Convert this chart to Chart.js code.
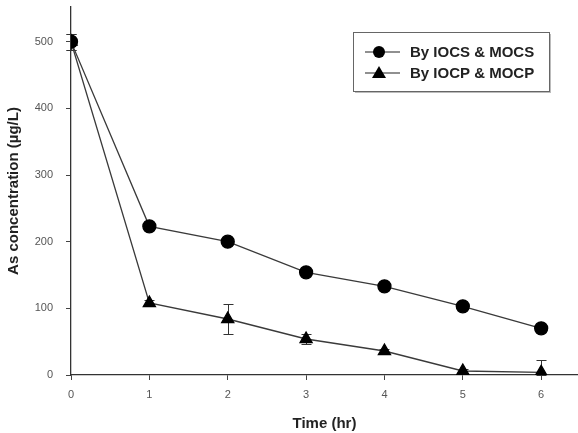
<!DOCTYPE html>
<html>
<head>
<meta charset="utf-8">
<script src="https://cdn.jsdelivr.net/npm/chart.js@4.4.0/dist/chart.umd.min.js"></script>
<style>
  html, body { margin: 0; padding: 0; background: #fff; }
  #wrap { width: 578px; height: 433px; }
</style>
</head>
<body>
<div id="wrap"><canvas id="asChart" width="578" height="433"></canvas></div>
<script>
// As removal over time: two sorbent combos
const times = [0, 1, 2, 3, 4, 5, 6];
const iocsMocs = [500, 223, 200, 154, 133, 103, 70];
const iocsMocsErr = [12, 5, 5, 4, 6, 4, 5];
const iocpMocp = [500, 108, 84, 54, 36, 6, 4];
const iocpMocpErr = [12, 5, 22, 8, 3, 3, 18];
const xTicks = [0, 1, 2, 3, 4, 5, 6];
const yTicks = [0, 100, 200, 300, 400, 500];
const seriesNames = ['By IOCS & MOCS', 'By IOCP & MOCP'];

const lineColor = '#3a3a3a';
const fontFam = '"Liberation Sans", Arial, sans-serif';

// error bars, drawn under the markers
const errorBars = {
    id: 'errorBars',
    beforeDatasetsDraw(chart) {
        const ctx = chart.ctx;
        const xs = chart.scales.x, ys = chart.scales.y;
        ctx.save();
        ctx.strokeStyle = '#333';
        ctx.lineWidth = 1;
        chart.data.datasets.forEach(ds => {
            ds.data.forEach((p, i) => {
                const e = ds.errors[i];
                if (!e) return;
                const px = Math.round(xs.getPixelForValue(p.x)) + 0.5;
                const top = Math.round(ys.getPixelForValue(p.y + e)) + 0.5;
                const bot = Math.round(ys.getPixelForValue(Math.max(p.y - e, 0))) + 0.5;
                ctx.beginPath();
                ctx.moveTo(px, top); ctx.lineTo(px, bot);
                ctx.moveTo(px - 5, top); ctx.lineTo(px + 5, top);
                ctx.moveTo(px - 5, bot); ctx.lineTo(px + 5, bot);
                ctx.stroke();
            });
        });
        ctx.restore();
    }
};

// boxed legend inside the plot, top right
const boxLegend = {
    id: 'boxLegend',
    afterDraw(chart) {
        const ctx = chart.ctx;
        const bx = 353, by = 32, bw = 196, bh = 59;
        ctx.save();
        ctx.fillStyle = '#bbb';
        ctx.fillRect(bx + 2, by + 2, bw, bh);
        ctx.fillStyle = '#fff';
        ctx.fillRect(bx, by, bw, bh);
        ctx.strokeStyle = '#666';
        ctx.lineWidth = 1;
        ctx.strokeRect(bx + 0.5, by + 0.5, bw, bh);
        ctx.font = 'bold 15px ' + fontFam;
        ctx.textBaseline = 'middle';
        chart.data.datasets.forEach((ds, i) => {
            const ly = by + 20 + i * 21;
            const mx = bx + 26;
            ctx.strokeStyle = '#222';
            ctx.lineWidth = 1.2;
            ctx.beginPath();
            ctx.moveTo(bx + 12, ly); ctx.lineTo(bx + 47, ly);
            ctx.stroke();
            ctx.fillStyle = '#000';
            ctx.beginPath();
            if (ds.pointStyle === 'circle') {
                ctx.arc(mx, ly, 6, 0, Math.PI * 2);
            } else {
                ctx.moveTo(mx, ly - 7);
                ctx.lineTo(mx + 7, ly + 5);
                ctx.lineTo(mx - 7, ly + 5);
                ctx.closePath();
            }
            ctx.fill();
            ctx.fillStyle = '#222';
            ctx.fillText(ds.label, bx + 57, ly + 1);
        });
        ctx.restore();
    }
};

const ctx = document.getElementById('asChart').getContext('2d');
new Chart(ctx, {
    type: 'line',
    data: {
        datasets: [{
            label: seriesNames[0],
            data: times.map((t, i) => ({ x: t, y: iocsMocs[i] })),
            errors: iocsMocsErr,
            borderColor: lineColor,
            borderWidth: 1.3,
            pointStyle: 'circle',
            pointRadius: 6.5,
            pointBackgroundColor: '#000',
            pointBorderColor: '#000',
            tension: 0
        }, {
            label: seriesNames[1],
            data: times.map((t, i) => ({ x: t, y: iocpMocp[i] })),
            errors: iocpMocpErr,
            borderColor: lineColor,
            borderWidth: 1.3,
            pointStyle: 'triangle',
            pointRadius: 7,
            pointBackgroundColor: '#000',
            pointBorderColor: '#000',
            tension: 0
        }]
    },
    options: {
        responsive: false,
        animation: false,
        layout: { autoPadding: false, padding: { top: 7, right: 0, left: 0, bottom: 0 } },
        plugins: {
            legend: { display: false },
            tooltip: { enabled: false }
        },
        scales: {
            x: {
                type: 'linear',
                min: 0,
                max: 6.47,
                afterBuildTicks: axis => { axis.ticks = xTicks.map(v => ({ value: v })); },
                afterFit: s => { s.height = 58; s.paddingLeft = 0; s.paddingRight = 0; },
                grid: { drawOnChartArea: false, tickLength: 5, color: '#444' },
                border: { color: '#333', width: 1.3 },
                ticks: { color: '#555', font: { size: 11, family: fontFam }, padding: 8 },
                title: { display: true, text: 'Time (hr)', color: '#222', font: { size: 15, weight: 'bold', family: fontFam }, padding: { top: 0, bottom: 0 } }
            },
            y: {
                min: 0,
                max: 552,
                afterBuildTicks: axis => { axis.ticks = yTicks.map(v => ({ value: v })); },
                afterFit: s => { s.width = 71; s.paddingTop = 0; s.paddingBottom = 0; },
                grid: { drawOnChartArea: false, tickLength: 5, color: '#444' },
                border: { color: '#333', width: 1.3 },
                ticks: { color: '#555', font: { size: 11, family: fontFam }, padding: 13 },
                title: { display: true, text: 'As concentration (µg/L)', color: '#222', font: { size: 15, weight: 'bold', family: fontFam }, padding: { top: 5, bottom: 0 } }
            }
        }
    },
    plugins: [errorBars, boxLegend]
});
</script>
</body>
</html>
